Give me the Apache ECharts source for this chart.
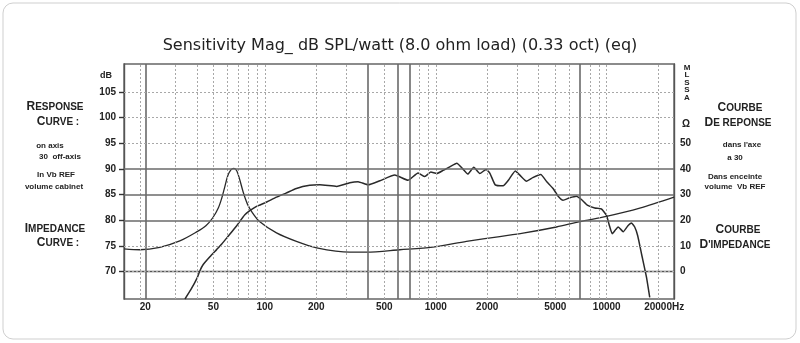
<!DOCTYPE html>
<html>
<head>
    <meta charset="utf-8">
    <script src="https://cdn.jsdelivr.net/npm/echarts@6/dist/echarts.min.js"></script>
</head>
<body style="margin:0;background:#fff">
<div id="main" style="width: 800px;height:343px;"></div>
<script type="text/javascript">
    // response curve (dB SPL)
    var respFreq = [34.1, 36.9, 40.2, 41.7, 43.6, 47.7, 52.2, 56.0, 61.0, 68.3, 76.4, 89.4, 100, 117, 133, 153, 183, 210, 263, 314,
        351, 402, 471, 576, 689, 788, 862, 935, 1013, 1103, 1207, 1327, 1439, 1539, 1668, 1809, 1969, 2070, 2228, 2476,
        2673, 2917, 3142, 3392, 3693, 4112, 4459, 4853, 5170, 5553, 6076, 6648, 7143, 7745, 8509, 9311, 9959, 10342, 10769, 11289,
        11676, 12490, 13270, 13945, 14579, 15180, 16020, 17070, 17850];
    var respDb = [64.7, 66.5, 68.8, 70.2, 71.4, 72.9, 74.3, 75.4, 76.9, 78.9, 81.1, 82.7, 83.4, 84.5, 85.3, 86.2, 86.8, 86.9, 86.6, 87.3,
        87.5, 86.9, 87.7, 88.8, 87.8, 89.2, 88.5, 89.4, 89.1, 89.7, 90.4, 91.1, 90.0, 89.0, 90.3, 89.1, 89.9, 89.2, 86.9, 86.7,
        87.9, 89.6, 88.6, 87.6, 88.3, 88.9, 87.5, 86.2, 84.8, 83.9, 84.4, 84.7, 84.0, 82.9, 82.4, 82.2, 81.0, 79.1, 77.4, 78.2,
        78.7, 77.8, 78.9, 79.5, 78.7, 77.0, 73.3, 69.0, 65.0];

    // impedance curve (ohm, right axis)
    var impFreq = [15.0, 18.6, 24.3, 31.8, 39.9, 45.2, 49.6, 53.5, 56.0, 58.3, 60.7, 63.3, 65.9, 68.6, 71.4, 74.9, 79.0, 83.9,
        93.5, 117, 153, 201, 314, 393, 616, 960, 1512, 2367, 3240, 5080, 6950, 9960, 15600, 24750];
    var impOhm = [8.9, 8.55, 9.5, 12.0, 15.5, 17.9, 21.0, 24.9, 28.7, 33.0, 37.3, 39.6, 40.2, 39.2, 35.7, 30.7, 26.4, 23.3,
        19.4, 15.1, 11.8, 9.3, 7.6, 7.6, 8.55, 9.6, 11.8, 13.7, 15.0, 17.4, 19.5, 21.5, 24.7, 29.0];

    // axis labels
    var freqLabels = [20, 50, 100, 200, 500, 1000, 2000, 5000, 10000, 20000];
    var dbLabels = [70, 75, 80, 85, 90, 95, 100, 105];
    var ohmLabels = [0, 10, 20, 30, 40, 50];

    // grid lines
    var solidFreqLines = [20, 400, 600, 700, 7000];
    var dashedFreqLines = [18.6, 30, 40, 50, 60, 70, 80, 90, 100, 200, 300, 500, 800, 900, 1000,
        2000, 3000, 4000, 5000, 6000, 8000, 9000, 10000, 20000];
    var solidDbLines = [80, 85, 90];
    var dashedDbLines = [70, 75, 95, 100, 105];

    function zip(a, b) {
        return a.map(function (v, i) { return [v, b[i]]; });
    }

    var solidStyle = {type: 'solid', color: '#6a6a6a', width: 1.6};
    var dashStyle = {type: [2, 2], color: '#a8a8a8', width: 1};
    var gridLines = [];
    solidFreqLines.forEach(function (f) { gridLines.push({xAxis: f, lineStyle: solidStyle}); });
    dashedFreqLines.forEach(function (f) { gridLines.push({xAxis: f, lineStyle: dashStyle}); });
    solidDbLines.forEach(function (v) { gridLines.push({yAxis: v, lineStyle: solidStyle}); });
    dashedDbLines.forEach(function (v) { gridLines.push({yAxis: v, lineStyle: dashStyle}); });

    var sideFont = 'Liberation Sans';
    function caps(first, rest) {
        return '{a|' + first + '}{b|' + rest + '}';
    }
    var capsRich = {
        a: {fontSize: 12, fontWeight: 'bold', fontFamily: sideFont, fill: '#222'},
        b: {fontSize: 10, fontWeight: 'bold', fontFamily: sideFont, fill: '#222'}
    };
    function sideText(x, y, txt, small) {
        var st = {x: x, y: y, text: txt, textAlign: 'center', textVerticalAlign: 'middle', fill: '#222'};
        if (small) {
            st.font = 'bold 8px ' + sideFont;
        } else {
            st.rich = capsRich;
            st.font = 'bold 10px ' + sideFont;
        }
        return {type: 'text', silent: true, style: st};
    }

    var myChart = echarts.init(document.getElementById('main'));

    var option = {
        animation: false,
        backgroundColor: '#fff',
        title: {
            text: 'Sensitivity Mag_ dB SPL/watt (8.0 ohm load) (0.33 oct) (eq)',
            left: 'center',
            top: 38,
            padding: 0,
            textStyle: {fontFamily: 'DejaVu Sans', fontSize: 16, fontWeight: 'normal', color: '#222'}
        },
        grid: {
            left: 124, right: 126, top: 64, bottom: 44,
            show: true, borderColor: '#666', borderWidth: 1.4, backgroundColor: 'transparent'
        },
        xAxis: {
            type: 'log',
            logBase: 10,
            min: 15,
            max: 24750,
            axisLine: {lineStyle: {color: '#555', width: 1.4}},
            axisTick: {show: false},
            splitLine: {show: false},
            minorSplitLine: {show: false},
            axisLabel: {
                customValues: freqLabels,
                margin: 3,
                fontFamily: 'Liberation Sans',
                fontWeight: 'bold',
                fontSize: 10,
                color: '#222',
                formatter: function (v) {
                    return v >= 19999 ? '{hz|' + Math.round(v) + 'Hz}' : String(Math.round(v));
                },
                rich: {hz: {fontFamily: 'Liberation Sans', fontWeight: 'bold', fontSize: 10, color: '#222', padding: [0, 0, 0, 12]}}
            }
        },
        yAxis: [{
            type: 'value',
            min: 64.7,
            max: 110.4,
            position: 'left',
            axisLine: {show: true, lineStyle: {color: '#555', width: 1.4}},
            axisTick: {show: true, customValues: dbLabels, length: 5, lineStyle: {color: '#333', width: 1.4}},
            splitLine: {show: false},
            axisLabel: {
                customValues: dbLabels,
                margin: 8,
                fontFamily: 'Liberation Sans',
                fontWeight: 'bold',
                fontSize: 10,
                color: '#222'
            }
        }, {
            type: 'value',
            min: -10.6,
            max: 80.8,
            position: 'right',
            axisLine: {show: true, lineStyle: {color: '#555', width: 1.4}},
            axisTick: {show: false},
            splitLine: {show: false},
            axisLabel: {
                customValues: ohmLabels,
                margin: 6,
                fontFamily: 'Liberation Sans',
                fontWeight: 'bold',
                fontSize: 10,
                color: '#222'
            }
        }],
        graphic: [
            {type: 'rect', silent: true, shape: {x: 3, y: 3, width: 793, height: 336, r: 10},
                style: {fill: 'none', stroke: '#cfcfcf', lineWidth: 1}},
            {type: 'text', silent: true, style: {x: 106, y: 76, text: 'dB', textAlign: 'center', textVerticalAlign: 'middle',
                font: 'bold 9px Liberation Sans', fill: '#222'}},
            {type: 'text', silent: true, style: {x: 687, y: 64, text: 'M\nL\nS\nS\nA', textAlign: 'center',
                font: 'bold 8px Liberation Sans', lineHeight: 7.4, fill: '#222'}},
            {type: 'text', silent: true, style: {x: 686, y: 124, text: 'Ω', textAlign: 'center', textVerticalAlign: 'middle',
                font: 'bold 10px Liberation Sans', fill: '#222'}},

            sideText(55, 107, caps('R', 'ESPONSE')),
            sideText(58, 122, caps('C', 'URVE :')),
            sideText(50, 146, 'on axis', true),
            sideText(60, 157, '30  off-axis', true),
            sideText(56, 175, 'In Vb REF', true),
            sideText(54, 187, 'volume cabinet', true),
            sideText(55, 229, caps('I', 'MPEDANCE')),
            sideText(58, 243, caps('C', 'URVE :')),

            sideText(740, 108, caps('C', 'OURBE')),
            sideText(738, 123, caps('D', 'E REPONSE')),
            sideText(742, 145, 'dans l\'axe', true),
            sideText(735, 158, 'a 30', true),
            sideText(735, 177, 'Dans enceinte', true),
            sideText(735, 187, 'volume  Vb REF', true),
            sideText(738, 230, caps('C', 'OURBE')),
            sideText(735, 245, caps('D', '\'IMPEDANCE'))
        ],
        series: [{
            name: 'grid',
            type: 'line',
            data: [],
            z: 1,
            silent: true,
            markLine: {
                silent: true,
                symbol: 'none',
                label: {show: false},
                animation: false,
                data: gridLines
            }
        }, {
            name: 'response',
            type: 'line',
            yAxisIndex: 0,
            z: 3,
            data: zip(respFreq, respDb),
            showSymbol: false,
            smooth: 0.15,
            lineStyle: {color: '#2a2a2a', width: 1.5}
        }, {
            name: 'impedance',
            type: 'line',
            yAxisIndex: 1,
            z: 3,
            data: zip(impFreq, impOhm),
            showSymbol: false,
            smooth: 0.3,
            lineStyle: {color: '#2a2a2a', width: 1.3}
        }]
    };

    myChart.setOption(option);
</script>
</body>
</html>
